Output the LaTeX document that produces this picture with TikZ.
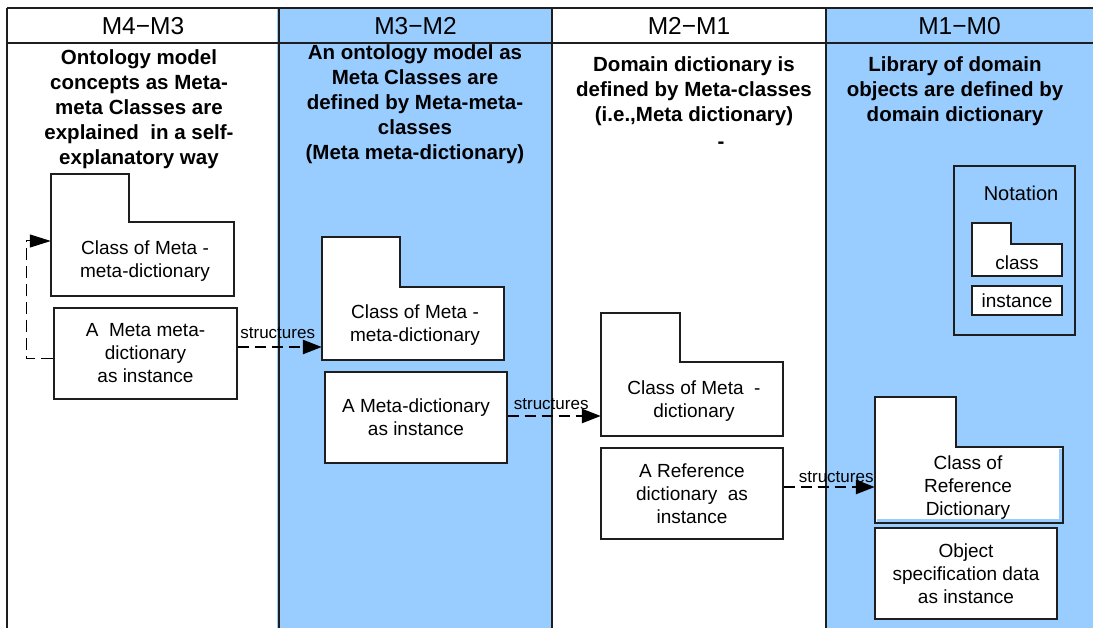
\documentclass[tikz,border=0pt]{standalone}
\usepackage{fontspec}
\setmainfont{Liberation Sans}
\usetikzlibrary{arrows.meta,fit}
\definecolor{colblue}{RGB}{153,204,255}
\definecolor{inkline}{RGB}{30,30,30}

% folder-shaped class box: name, left, top, tab right, step, right, bottom
\newcommand\folderbox[7]{%
  \filldraw[classline] (#2,#3) -- (#4,#3) -- (#4,#5) -- (#6,#5) -- (#6,#7) -- (#2,#7) -- cycle;
  \coordinate (#1-nw) at (#2,#3);
  \coordinate (#1-se) at (#6,#7);
  \node[fit=(#1-nw)(#1-se), inner sep=0pt] (#1) {};}

\begin{document}
\begin{tikzpicture}[x=1pt,y=-1pt,
  frame/.style={line width=1.5pt, draw=inkline},
  head/.style={font=\fontsize{24.5pt}{28pt}\selectfont, inner sep=0pt},
  desc/.style={font=\fontsize{20.5pt}{25pt}\selectfont\bfseries, align=center, inner sep=0pt},
  boxtext/.style={font=\fontsize{19pt}{23pt}\selectfont, align=center, inner sep=0pt},
  classline/.style={draw=inkline, fill=white, line width=1.2pt},
  inst/.style={draw=inkline, fill=white, line width=1.2pt, inner sep=0pt, align=center,
               font=\fontsize{19pt}{23pt}\selectfont},
  struct/.style={line width=2.7pt, dash pattern=on 11pt off 6pt,
                 -{Triangle[length=19pt,width=14pt]}},
  selfref/.style={line width=1pt, dash pattern=on 12pt off 6pt,
                  -{Triangle[length=21pt,width=13pt]}},
  lbl/.style={font=\fontsize{17pt}{20pt}\selectfont, inner sep=0pt}
]
\useasboundingbox (0,0) rectangle (1093,628);

% shaded columns
\fill[colblue] (277,8) rectangle (552,628);
\fill[colblue] (826,8) rectangle (1093,628);

% table rules
\draw[frame] (7,8) -- (1093,8);
\draw[frame] (7,43) -- (1093,43);
\draw[frame] (7,8) -- (7,628);
\draw[frame] (279,8) -- (279,628);
\draw[frame] (552,8) -- (552,628);
\draw[frame] (826,8) -- (826,628);

% column headings
\node[head] (h1) at (143,26) {M4−M3};
\node[head] (h2) at (415.5,26) {M3−M2};
\node[head] (h3) at (689,26) {M2−M1};
\node[head] (h4) at (959.5,26) {M1−M0};

% column descriptions
\node[desc] (d1) at (139,109) {Ontology model\\concepts as Meta-\\meta Classes are\\explained\ \ in a self-\\explanatory way};
\node[desc] (d2) at (415,104.5) {An ontology model as\\Meta Classes are\\defined by Meta-meta-\\classes\\(Meta meta-dictionary)};
\node[desc] (d3) at (694,91) {Domain dictionary is\\defined by Meta-classes\\(i.e.,Meta dictionary)};
\node[desc] (d3b) at (721,145) {-};
\node[desc] (d4) at (955,91) {Library of domain\\objects are defined by\\domain dictionary};

% M4-M3
\folderbox{c1}{51}{174}{129}{222}{234}{296}
\node[boxtext] (c1t) at (145,261) {Class of Meta -\\meta-dictionary};
\node[inst, minimum width=183pt, minimum height=91pt] (i1) at (145.5,353.5) {A\ \ Meta meta-\\dictionary\\as instance};

% M3-M2
\folderbox{c2}{322}{237}{400}{287}{504}{360}
\node[boxtext] (c2t) at (415,325) {Class of Meta -\\meta-dictionary};
\node[inst, minimum width=182pt, minimum height=91pt] (i2) at (416,417.5) {A Meta-dictionary\\as instance};

% M2-M1
\folderbox{c3}{601}{313}{680}{362}{783}{436}
\node[boxtext] (c3t) at (694,401.5) {Class of Meta\ \ -\\dictionary};
\node[inst, minimum width=182pt, minimum height=91pt] (i3) at (692,493.5) {A Reference\\dictionary\ \ as\\instance};

% M1-M0
\folderbox{c4}{875}{397}{956}{447}{1063}{523}
\fill[colblue] (1058.6,449) rectangle (1062.3,522.3);
\fill[colblue] (876.6,518.6) rectangle (1062.3,522.3);
\node[boxtext] (c4t) at (968,487.5) {Class of\\Reference\\Dictionary};
\node[inst, minimum width=182pt, minimum height=91pt] (i4) at (966,573.5) {Object\\specification data\\as instance};

% legend
\node[draw=inkline, line width=1.2pt, minimum width=121pt, minimum height=169pt, inner sep=0pt] (nota) at (1014.5,250.5) {};
\node[boxtext, font=\fontsize{20pt}{24pt}\selectfont] (notat) at (1021,193) {Notation};
\folderbox{nc}{972}{223}{1011}{244}{1062}{276}
\node[boxtext] (nct) at (1017,263) {class};
\node[inst, minimum width=90pt, minimum height=29pt] (ni) at (1017,300.5) {instance};

% connectors
\draw[selfref] ([yshift=-5.5pt]i1.west) -| (26,241) -- (c1.west |- 0,241);
\draw[struct] (i1.east |- 0,347) -- node[lbl, yshift=14pt, xshift=-2pt] (l1) {structures} (c2.west |- 0,347);
\draw[struct] (i2.east |- 0,416) -- node[lbl, yshift=12pt, xshift=-3pt] (l2) {structures} (c3.west |- 0,416);
\draw[struct] (i3.east |- 0,487) -- node[lbl, yshift=10pt, xshift=7pt] (l3) {structures} (c4.west |- 0,487);
\end{tikzpicture}
\end{document}
